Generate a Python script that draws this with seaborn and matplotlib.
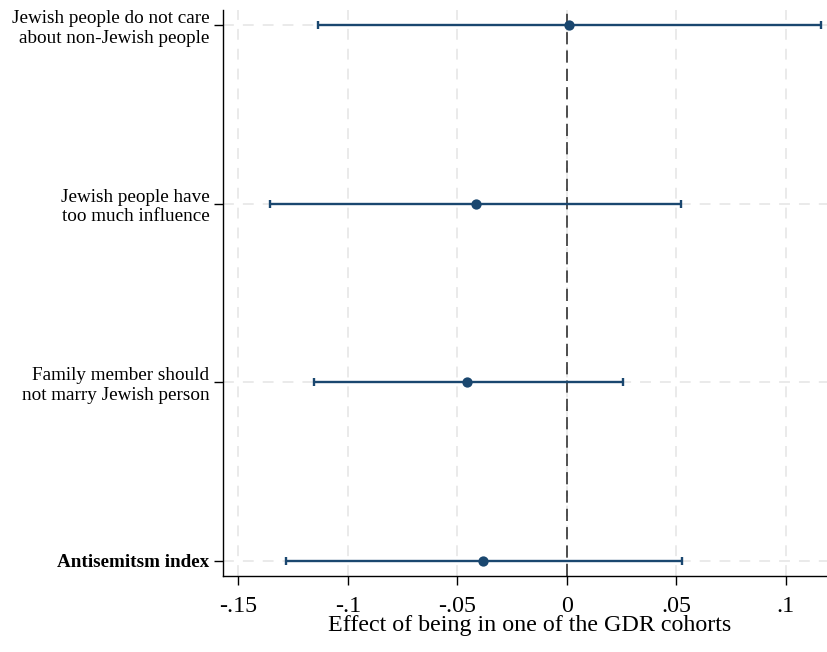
import matplotlib
matplotlib.use("Agg")
import matplotlib.pyplot as plt
import seaborn as sns
import numpy as np
import pandas as pd

labels = ["Jewish people do not care\nabout non-Jewish people",
          "Jewish people have\ntoo much influence",
          "Family member should\nnot marry Jewish person",
          "Antisemitsm index"]
estimates = [0.0009, -0.0416, -0.0455, -0.0382]
lower = [-0.1135, -0.1355, -0.1152, -0.1282]
upper = [0.1160, 0.0520, 0.0256, 0.0529]
xticks = [-0.15, -0.10, -0.05, 0.0, 0.05, 0.10]
xticklabels = ["-.15", "-.1", "-.05", "0", ".05", ".1"]

df = pd.DataFrame({"label": labels, "est": estimates, "lo": lower, "hi": upper})
df["pos"] = np.arange(len(df))

sns.set_theme(style="white")
plt.rcParams["font.family"] = ["Liberation Serif", "DejaVu Serif"]
plt.rcParams["text.color"] = "black"
plt.rcParams["xtick.color"] = "black"
plt.rcParams["ytick.color"] = "black"
plt.rcParams["axes.labelcolor"] = "black"

fig = plt.figure(figsize=(8.27, 6.52), dpi=100)
ax = fig.add_axes([0.2693, 0.117, 0.7307, 0.8677])

color = "#1a476f"
for x in xticks:
    ax.axvline(x, color="#e8e8e8", lw=1.3, ls=(0, (6, 5)), zorder=0)
for y in df["pos"]:
    ax.axhline(y, color="#e8e8e8", lw=1.3, ls=(0, (6, 5)), zorder=0)
ax.axvline(0, color="#222222", lw=1.1, ls=(0, (8, 4)), zorder=1)

ax.errorbar(df["est"], df["pos"], xerr=[df["est"] - df["lo"], df["hi"] - df["est"]],
            fmt="none", ecolor=color, elinewidth=1.7, capsize=3.2, capthick=1.7, zorder=2)
sns.scatterplot(data=df, x="est", y="pos", color=color, s=55, edgecolor=color,
                linewidth=0, ax=ax, zorder=3)

ax.set_xlim(-0.1571, 0.1189)
ax.set_ylim(3.084, -0.084)
ax.set_xticks(xticks)
ax.set_xticklabels(xticklabels, fontsize=17.3)
ax.set_yticks(df["pos"])
ax.set_yticklabels(labels, fontsize=13.8, linespacing=1.22)
ax.get_yticklabels()[3].set_fontweight("bold")
ax.set_xlabel("Effect of being in one of the GDR cohorts", fontsize=17.3)
ax.xaxis.set_label_coords(0.5085, -0.0972)
ax.xaxis.label.set_verticalalignment("baseline")
ax.set_ylabel("")

for s in ["top", "right"]:
    ax.spines[s].set_visible(False)
for s in ["left", "bottom"]:
    ax.spines[s].set_color("#000000")
    ax.spines[s].set_linewidth(1.0)
ax.tick_params(axis="both", direction="out", length=6.5, width=1.0, color="#000000",
               bottom=True, left=True)
ax.tick_params(axis="x", pad=8)
ax.tick_params(axis="y", pad=3)

fig.savefig("out.png", dpi=100)
